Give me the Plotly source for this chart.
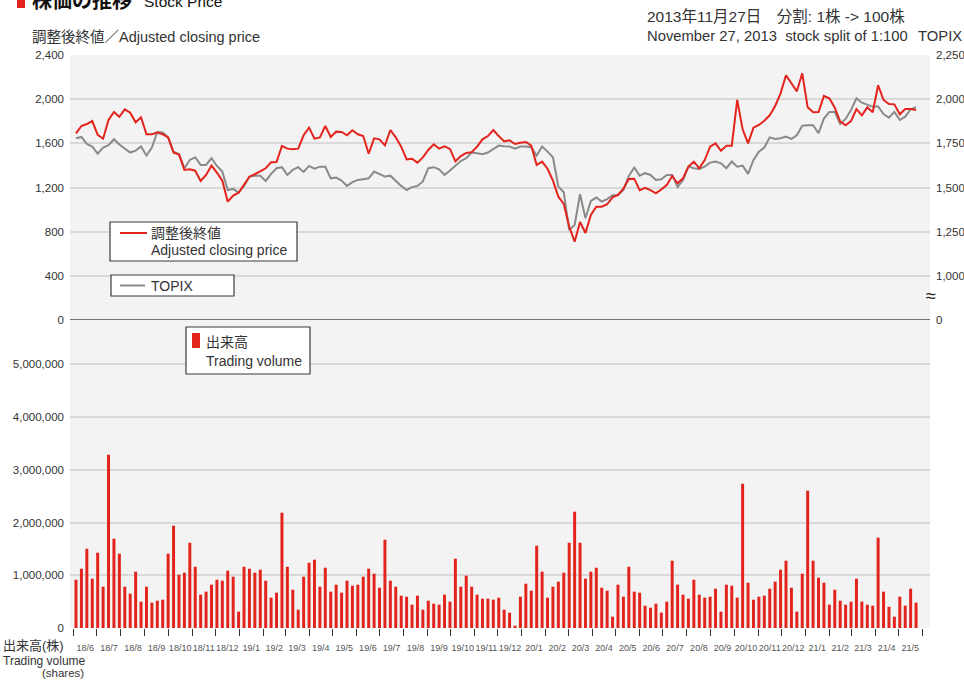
import pandas as pd
import plotly.graph_objects as go

# Weekly observations, June 2018 - May 2021
weeks = pd.date_range("2018-06-04", periods=156, freq="7D")

# Adjusted closing price (yen)
adjusted_close = [
    1691, 1757, 1775, 1802, 1676, 1642, 1811, 1884, 1841, 1908,
    1878, 1790, 1836, 1682, 1682, 1697, 1682, 1654, 1515, 1500,
    1359, 1365, 1352, 1259, 1313, 1398, 1334, 1262, 1072, 1126,
    1153, 1223, 1298, 1320, 1347, 1374, 1428, 1431, 1576, 1552,
    1546, 1552, 1673, 1742, 1642, 1654, 1757, 1657, 1706, 1703,
    1673, 1718, 1682,
    1666, 1506, 1645, 1636, 1582, 1721, 1654, 1570, 1455, 1461,
    1425, 1473, 1540, 1591, 1552, 1573, 1549, 1437, 1485, 1513,
    1519, 1570, 1636, 1666, 1721, 1666, 1618, 1627, 1594, 1606,
    1612, 1579, 1404, 1434, 1370, 1262, 1117, 1051, 845, 709,
    888, 788, 951, 1026, 1026, 1048, 1111, 1132, 1189, 1277,
    1280, 1175, 1196, 1177, 1147,
    1183, 1223, 1304, 1238, 1283, 1389, 1434, 1374, 1449, 1570,
    1600, 1533, 1579, 1579, 1993, 1727, 1600, 1742, 1766, 1805,
    1854, 1938, 2053, 2216, 2144, 2071, 2234, 1926, 1881, 1884,
    2029, 2008, 1923, 1796, 1763, 1802, 1911, 1854, 1926, 1881,
    2126, 1993, 1956, 1953, 1863, 1911, 1911, 1902,
]

# TOPIX (points)
topix = [
    1779, 1786, 1747, 1732, 1692, 1726, 1739, 1773, 1743, 1720,
    1698, 1709, 1732, 1681, 1726, 1814, 1811, 1784, 1703, 1688,
    1609, 1656, 1671, 1628, 1628, 1666, 1622, 1590, 1486, 1492,
    1471, 1509, 1562, 1567, 1566, 1537, 1577, 1609, 1615, 1571,
    1600, 1615, 1588, 1622, 1607, 1618, 1617, 1552, 1556, 1539,
    1509, 1530, 1543,
    1547, 1552, 1590, 1575, 1562, 1567, 1537, 1509, 1486, 1502,
    1509, 1534, 1609, 1615, 1603, 1571, 1596, 1622, 1650, 1666,
    1698, 1694, 1688, 1698, 1716, 1737, 1733, 1732, 1720, 1732,
    1732, 1728, 1681, 1732, 1703, 1671, 1505, 1473, 1260, 1288,
    1462, 1326, 1424, 1443, 1420, 1434, 1456, 1456, 1486, 1566,
    1613, 1567, 1581, 1571, 1543,
    1547, 1571, 1571, 1502, 1543, 1618, 1609, 1605, 1618, 1641,
    1647, 1637, 1609, 1647, 1618, 1624, 1577, 1656, 1703, 1726,
    1784, 1775, 1779, 1788, 1775, 1796, 1850, 1852, 1852, 1807,
    1890, 1928, 1928, 1860, 1888, 1939, 2005, 1980, 1967, 1958,
    1958, 1916, 1895, 1928, 1882, 1901, 1943, 1954,
]

# Trading volume (shares)
volume = [
    916000, 1124000, 1503000, 935000, 1428000, 783000, 3285000, 1693000, 1409000, 783000,
    651000, 1068000, 499000, 783000, 480000, 518000, 537000, 1409000, 1939000, 1011000,
    1049000, 1617000, 1162000, 632000, 689000, 821000, 916000, 897000, 1087000, 973000,
    310000, 1162000, 1124000, 1049000, 1106000, 897000, 575000, 670000, 2186000, 1162000,
    726000, 347000, 973000, 1238000, 1295000, 783000, 1143000, 689000, 821000, 670000,
    897000, 802000, 821000,
    973000, 1124000, 1030000, 764000, 1674000, 897000, 783000, 613000, 594000, 442000,
    613000, 347000, 518000, 461000, 442000, 632000, 499000, 1314000, 783000, 992000,
    783000, 632000, 556000, 556000, 537000, 575000, 347000, 291000, 44000, 594000,
    840000, 708000, 1560000, 1068000, 575000, 783000, 878000, 1049000, 1617000, 2205000,
    1617000, 935000, 1068000, 1143000, 764000, 708000, 215000, 821000, 594000, 1162000,
    689000, 670000, 423000, 385000, 461000,
    291000, 499000, 1276000, 821000, 632000, 556000, 916000, 632000, 575000, 594000,
    745000, 310000, 821000, 802000, 575000, 2735000, 859000, 537000, 594000, 613000,
    745000, 878000, 1106000, 1276000, 764000, 310000, 1030000, 2603000, 1276000, 954000,
    859000, 442000, 726000, 518000, 442000, 499000, 935000, 499000, 442000, 423000,
    1712000, 689000, 404000, 215000, 594000, 423000, 745000, 480000,
]

price_ticks = [0, 400, 800, 1200, 1600, 2000, 2400]
topix_ticks = [750, 1000, 1250, 1500, 1750, 2000, 2250]
topix_tick_text = ["0", "1,000", "1,250", "1,500", "1,750", "2,000", "2,250"]
volume_ticks = [0, 1000000, 2000000, 3000000, 4000000, 5000000]

RED = "#e3241d"
GRAY = "#8a8a8a"
GRID = "#d9d9d9"
TEXT = "#333333"
JP = "Liberation Sans, Noto Sans CJK JP, sans-serif"
TICK_FONT = dict(family="Liberation Sans, sans-serif", size=11.5, color=TEXT)

W, H = 964, 680
ML, MR, MT, MB = 70, 34, 55, 52
PW, PH = W - ML - MR, H - MT - MB
SPLIT = 308 / PH  # volume panel share of plot height


def px(x):
    return (x - ML) / PW


def py(y):
    return (H - MB - y) / PH


fig = go.Figure()

fig.add_trace(go.Bar(
    x=weeks, y=volume, yaxis="y3", name="出来高 Trading volume",
    marker=dict(color=RED, line=dict(width=0)), showlegend=False,
))
fig.add_trace(go.Scatter(
    x=weeks, y=topix, yaxis="y", mode="lines", name="TOPIX",
    line=dict(color=GRAY, width=2), showlegend=False,
))
fig.add_trace(go.Scatter(
    x=weeks, y=adjusted_close, yaxis="y2", mode="lines",
    name="調整後終値 Adjusted closing price",
    line=dict(color=RED, width=2), showlegend=False,
))

fig.update_layout(
    template="none",
    width=W, height=H,
    margin=dict(l=ML, r=MR, t=MT, b=MB, autoexpand=False),
    paper_bgcolor="white", plot_bgcolor="#f3f3f3",
    bargap=0.45,
    showlegend=False,
    xaxis=dict(
        type="date", anchor="y3", automargin=False,
        range=["2018-05-27 06:00", "2021-06-11"],
        tick0="2018-06-01", dtick="M1", tickformat="%y/%-m",
        ticklabelmode="period", tickangle=0, ticklabelstandoff=4,
        ticks="outside", ticklen=7, tickwidth=1.2, tickcolor="#333333",
        showgrid=False, zeroline=False, showline=False,
        tickfont=dict(family="Liberation Sans, sans-serif", size=9, color="#555555"),
    ),
    yaxis=dict(
        domain=[SPLIT, 1], anchor="x", side="right", automargin=False,
        range=[750, 2250], tickvals=topix_ticks, ticktext=topix_tick_text,
        showgrid=True, gridcolor=GRID, gridwidth=1.5, zeroline=False,
        ticks="", ticklabelstandoff=5, tickfont=TICK_FONT,
    ),
    yaxis2=dict(
        overlaying="y", anchor="x", side="left", automargin=False,
        range=[0, 2400], tickvals=price_ticks, tickformat=",d",
        showgrid=False, zeroline=False, ticks="", ticklabelstandoff=5,
        tickfont=TICK_FONT,
    ),
    yaxis3=dict(
        domain=[0, SPLIT], anchor="x", automargin=False,
        range=[0, 5840000], tickvals=volume_ticks, tickformat=",d",
        showgrid=True, gridcolor=GRID, gridwidth=1.5, zeroline=False,
        ticks="", ticklabelstandoff=5, tickfont=TICK_FONT,
    ),
)

# Divider between the price and volume panels
fig.add_shape(type="line", xref="paper", yref="y2", x0=0, x1=1, y0=0, y1=0,
              line=dict(color="#4a4a4a", width=1.5))
# Title marker
fig.add_shape(type="rect", xref="paper", yref="paper",
              x0=px(17), x1=px(25), y0=py(8), y1=py(-6),
              fillcolor=RED, line=dict(width=0))


def box(x0, y0, x1, y1):
    fig.add_shape(type="rect", xref="paper", yref="paper",
                  x0=px(x0), x1=px(x1), y0=py(y1), y1=py(y0),
                  fillcolor="white", line=dict(color="#3a3a3a", width=1.2))


def label(text, x, y, size=14, anchor="left", color=TEXT, family=JP):
    fig.add_annotation(text=text, xref="paper", yref="paper", x=px(x), y=py(y),
                       xanchor=anchor, yanchor="middle", showarrow=False,
                       borderpad=0, font=dict(family=family, size=size, color=color))


# Legend: adjusted closing price
box(110, 222, 297, 261)
fig.add_shape(type="line", xref="paper", yref="paper",
              x0=px(120), x1=px(147), y0=py(233), y1=py(233),
              line=dict(color=RED, width=2))
label("調整後終値", 150, 233, size=14)
label("Adjusted closing price", 150, 250, size=14)

# Legend: TOPIX
box(111, 275, 234, 296)
fig.add_shape(type="line", xref="paper", yref="paper",
              x0=px(120), x1=px(145), y0=py(285.5), y1=py(285.5),
              line=dict(color=GRAY, width=2))
label("TOPIX", 150, 286, size=14)

# Legend: trading volume
box(186, 327, 310, 374)
fig.add_shape(type="rect", xref="paper", yref="paper",
              x0=px(192), x1=px(200), y0=py(348), y1=py(333),
              fillcolor=RED, line=dict(width=0))
label("出来高", 205, 342, size=14)
label("Trading volume", 205, 361, size=14)

# Titles and notes
label("<b>株価の推移</b>", 31, -1, size=20, color="#111111",
      family="Noto Sans CJK JP, sans-serif")
label("Stock Price", 143, 1, size=15.5, color="#111111")
label("調整後終値／Adjusted closing price", 31, 37, size=14.5)
label("2013年11月27日　分割: 1株 -> 100株", 646, 17, size=15.5)
label("November 27, 2013  stock split of 1:100", 646, 36, size=14.8)
label("TOPIX", 917, 36, size=14.8)
label("≈", 931, 296, size=18, anchor="center", color="#222222")
label("出来高(株)", 2, 645, size=13)
label("Trading volume", 2, 661, size=12)
label("(shares)", 85, 673, size=11.5, anchor="right")

fig.write_html("out.html")
